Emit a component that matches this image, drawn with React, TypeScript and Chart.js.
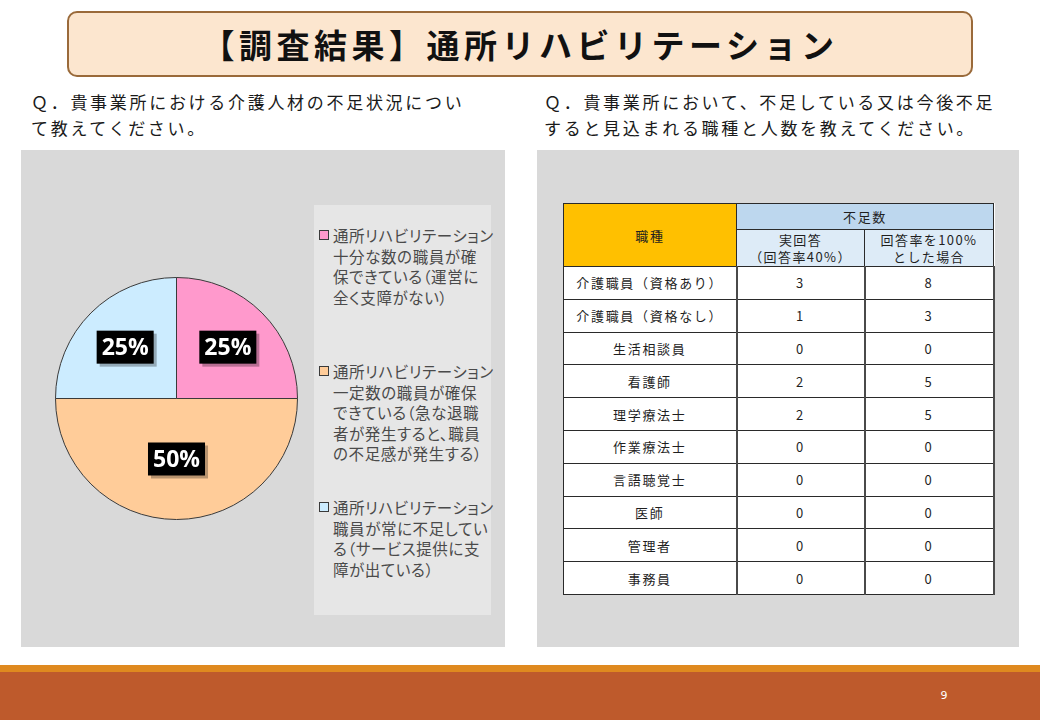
import React, { useEffect, useRef } from "react";
import { Chart, registerables } from "chart.js";

Chart.register(...registerables);

// ---------- data ----------
const TITLE = "【調査結果】通所リハビリテーション";
const QUESTION_LEFT = ["Ｑ．貴事業所における介護人材の不足状況につい", "て教えてください。"];
const QUESTION_RIGHT = ["Ｑ．貴事業所において、不足している又は今後不足", "すると見込まれる職種と人数を教えてください。"];

const pieLabels = [
  "通所リハビリテーション\n十分な数の職員が確\n保できている（運営に\n全く支障がない）",
  "通所リハビリテーション\n一定数の職員が確保\nできている（急な退職\n者が発生すると、職員\nの不足感が発生する）",
  "通所リハビリテーション\n職員が常に不足してい\nる（サービス提供に支\n障が出ている）",
];
const pieValues = [25, 50, 25];
const pieColors = ["#FF99CC", "#FFCC99", "#CCECFF"];

const tableHeadJob = "職種";
const tableHeadShortage = "不足数";
const tableHeadActual = ["実回答", "（回答率40%）"];
const tableHeadFull = ["回答率を100%", "とした場合"];
const jobs = [
  "介護職員（資格あり）",
  "介護職員（資格なし）",
  "生活相談員",
  "看護師",
  "理学療法士",
  "作業療法士",
  "言語聴覚士",
  "医師",
  "管理者",
  "事務員",
];
const actualCounts = [3, 1, 0, 2, 2, 0, 0, 0, 0, 0];
const fullCounts = [8, 3, 0, 5, 5, 0, 0, 0, 0, 0];
const PAGE_NUMBER = "9";

// ---------- style ----------
const JP = "'Noto Sans CJK JP', 'Noto Sans', sans-serif";
const labelRadius = [0.6, 0.5, 0.6];

const boxLabelPlugin = {
  id: "boxLabels",
  afterDatasetsDraw(chart: any) {
    const ctx = chart.ctx;
    const meta = chart.getDatasetMeta(0);
    const data = chart.data.datasets[0].data as number[];
    const total = data.reduce((a, b) => a + b, 0);
    meta.data.forEach((arc: any, i: number) => {
      const p = arc.getProps(["startAngle", "endAngle", "outerRadius", "x", "y"], true);
      const mid = (p.startAngle + p.endAngle) / 2;
      const r = p.outerRadius * labelRadius[i];
      const cx = p.x + Math.cos(mid) * r;
      const cy = p.y + Math.sin(mid) * r;
      const text = Math.round((data[i] / total) * 100) + "%";
      ctx.save();
      ctx.font = "bold 23px 'Open Sans', 'Noto Sans', sans-serif";
      const w = ctx.measureText(text).width + 10;
      const h = 33;
      ctx.fillStyle = "rgba(0,0,0,0.28)";
      ctx.fillRect(cx - w / 2 + 3, cy - h / 2 + 3, w, h);
      ctx.fillStyle = "#000";
      ctx.fillRect(cx - w / 2, cy - h / 2, w, h);
      ctx.fillStyle = "#fff";
      ctx.textAlign = "center";
      ctx.textBaseline = "middle";
      ctx.fillText(text, cx, cy + 1);
      ctx.restore();
    });
  },
};

function PieChart() {
  const ref = useRef<HTMLCanvasElement | null>(null);
  useEffect(() => {
    if (!ref.current) return;
    const chart = new Chart(ref.current, {
      type: "pie",
      data: {
        labels: pieLabels,
        datasets: [
          {
            data: pieValues,
            backgroundColor: pieColors,
            borderColor: "#3a3a3a",
            borderWidth: 1,
          },
        ],
      },
      options: {
        animation: false,
        responsive: true,
        maintainAspectRatio: false,
        layout: { padding: 3 },
        plugins: {
          legend: { display: false },
          tooltip: { enabled: false },
        },
      },
      plugins: [boxLabelPlugin],
    });
    return () => chart.destroy();
  }, []);
  return (
    <div style={{ position: "absolute", left: 52, top: 274, width: 249, height: 249 }}>
      <canvas ref={ref} />
    </div>
  );
}

function Legend() {
  return (
    <div
      style={{
        position: "absolute",
        left: 314,
        top: 205,
        width: 177,
        height: 410,
        background: "#E6E6E6",
      }}
    >
      {pieLabels.map((lab, i) => (
        <div key={i} style={{ position: "absolute", left: 0, top: 20 + i * 136, width: 177 }}>
          <div
            style={{
              position: "absolute",
              left: 5,
              top: 5,
              width: 8,
              height: 8,
              background: pieColors[i],
              border: "1px solid #3a3a3a",
            }}
          />
          <div
            style={{
              position: "absolute",
              left: 19,
              top: 0,
              width: 165,
              whiteSpace: "pre",
              fontFamily: JP,
              fontSize: 15.5,
              lineHeight: "20.6px",
              color: "#4a4a4a",
              fontFeatureSettings: "'palt'",
              letterSpacing: 0.6,
            }}
          >
            {lab}
          </div>
        </div>
      ))}
    </div>
  );
}

const cellBase: React.CSSProperties = {
  border: "1px solid #2a2a2a",
  textAlign: "center",
  verticalAlign: "middle",
  padding: 0,
  fontFamily: JP,
  fontSize: 13,
  letterSpacing: 1.7,
  color: "#1f1f1f",
  lineHeight: "17px",
};

function ShortageTable() {
  return (
    <table
      style={{
        position: "absolute",
        left: 563,
        top: 203,
        width: 430,
        borderCollapse: "collapse",
        tableLayout: "fixed",
        background: "#fff",
      }}
    >
      <colgroup>
        <col style={{ width: 173 }} />
        <col style={{ width: 128 }} />
        <col style={{ width: 129 }} />
      </colgroup>
      <tbody>
        <tr style={{ height: 26 }}>
          <td rowSpan={2} style={{ ...cellBase, background: "#FFC000" }}>
            {tableHeadJob}
          </td>
          <td colSpan={2} style={{ ...cellBase, background: "#BDD7EE" }}>
            {tableHeadShortage}
          </td>
        </tr>
        <tr style={{ height: 37 }}>
          <td style={{ ...cellBase, background: "#DDEBF7", letterSpacing: 1.4 }}>
            {tableHeadActual[0]}
            <br />
            {tableHeadActual[1]}
          </td>
          <td style={{ ...cellBase, background: "#DDEBF7", letterSpacing: 1.4 }}>
            {tableHeadFull[0]}
            <br />
            {tableHeadFull[1]}
          </td>
        </tr>
        {jobs.map((job, i) => (
          <tr key={job} style={{ height: 32.8 }}>
            <td style={cellBase}>{job}</td>
            <td style={{ ...cellBase, borderLeft: "2px solid #4a4a4a" }}>{actualCounts[i]}</td>
            <td style={{ ...cellBase, borderLeft: "2px solid #4a4a4a", borderRight: "2px solid #4a4a4a" }}>
              {fullCounts[i]}
            </td>
          </tr>
        ))}
      </tbody>
    </table>
  );
}

const questionStyle: React.CSSProperties = {
  position: "absolute",
  fontFamily: JP,
  fontSize: 17,
  letterSpacing: 2.7,
  lineHeight: "26px",
  color: "#1a1a1a",
  whiteSpace: "pre",
};

export default function App() {
  return (
    <div
      style={{
        position: "fixed",
        left: 0,
        top: 0,
        width: 1040,
        height: 720,
        background: "#fff",
        overflow: "hidden",
      }}
    >
      {/* title */}
      <div
        style={{
          position: "absolute",
          left: 67,
          top: 11,
          width: 906,
          height: 66,
          boxSizing: "border-box",
          background: "#FCE6CF",
          border: "2px solid #9A6A3A",
          borderRadius: 10,
          display: "flex",
          alignItems: "center",
          justifyContent: "center",
          fontFamily: JP,
          fontWeight: 700,
          fontSize: 33,
          letterSpacing: 4.5,
          color: "#111",
        }}
      >
        {TITLE}
      </div>

      {/* questions */}
      <div style={{ ...questionStyle, left: 31, top: 89 }}>{QUESTION_LEFT.join("\n")}</div>
      <div style={{ ...questionStyle, left: 544, top: 89 }}>{QUESTION_RIGHT.join("\n")}</div>

      {/* panels */}
      <div style={{ position: "absolute", left: 21, top: 150, width: 484, height: 497, background: "#D9D9D9" }} />
      <div style={{ position: "absolute", left: 537, top: 150, width: 482, height: 497, background: "#D9D9D9" }} />

      <PieChart />
      <Legend />
      <ShortageTable />

      {/* footer */}
      <div style={{ position: "absolute", left: 0, top: 665, width: 1040, height: 7, background: "#DF891F" }} />
      <div style={{ position: "absolute", left: 0, top: 672, width: 1040, height: 48, background: "#BE5A2C" }} />
      <div
        style={{
          position: "absolute",
          left: 938,
          top: 689,
          width: 12,
          textAlign: "center",
          fontFamily: "'DejaVu Sans', sans-serif",
          fontSize: 11,
          color: "#fff",
        }}
      >
        {PAGE_NUMBER}
      </div>
    </div>
  );
}
